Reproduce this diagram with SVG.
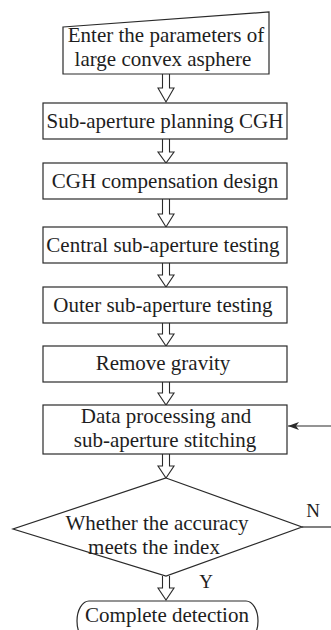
<svg xmlns="http://www.w3.org/2000/svg" width="331" height="630" viewBox="0 0 331 630">
  <style>
    .shape { fill: #ffffff; stroke: #2a2a2a; stroke-width: 1.2; }
    .label { font-family: "Liberation Serif", "Times New Roman", serif; font-size: 21px; fill: #1e1e1e; text-anchor: middle; }
    .tag { font-family: "Liberation Serif", "Times New Roman", serif; font-size: 19px; fill: #1e1e1e; text-anchor: middle; }
    .harrow { fill: #ffffff; stroke: #2a2a2a; stroke-width: 1.1; stroke-linejoin: miter; }
    .line { fill: none; stroke: #2a2a2a; stroke-width: 1.2; }
  </style>
  <defs>
    <marker id="solidHead" markerWidth="12" markerHeight="8" refX="11" refY="4" orient="auto" markerUnits="userSpaceOnUse">
      <path d="M0,0 L11,4 L0,8 L3,4 Z" fill="#2a2a2a"/>
    </marker>
  </defs>

  <!-- connectors: hollow block arrows and feedback loop -->
  <g id="connectors">
    <path class="harrow" d="M162.5,74 V88 H158 L166,102 L174,88 H169.5 V74"/>
    <path class="harrow" d="M162.5,139 V152 H158 L166,163 L174,152 H169.5 V139"/>
    <path class="harrow" d="M162.5,199 V214 H158 L166,227 L174,214 H169.5 V199"/>
    <path class="harrow" d="M162.5,263 V275 H158 L166,287 L174,275 H169.5 V263"/>
    <path class="harrow" d="M162.5,323 V334 H158 L166,346 L174,334 H169.5 V323"/>
    <path class="harrow" d="M162.5,382 V393 H158 L166,405 L174,393 H169.5 V382"/>
    <path class="harrow" d="M162.5,454 V466 H158 L166,478 L174,466 H169.5 V454"/>
    <path class="harrow" d="M162.5,576 V588 H158 L166,600 L174,588 H169.5 V576"/>
    <line class="line" x1="302" y1="527" x2="331" y2="527"/>
    <line class="line" x1="331" y1="426" x2="288" y2="426" marker-end="url(#solidHead)"/>
    <text class="tag" x="313" y="517">N</text>
    <text class="tag" x="206" y="588">Y</text>
  </g>

  <g id="input-parameters">
    <polygon class="shape" points="63,27 269,12 269,74 63,74"/>
    <text class="label" x="166" y="42">Enter the parameters of</text>
    <text class="label" x="163" y="66">large convex asphere</text>
  </g>

  <g id="subaperture-planning">
    <rect class="shape" x="43" y="103" width="244" height="36"/>
    <text class="label" x="165" y="128">Sub-aperture planning CGH</text>
  </g>

  <g id="cgh-design">
    <rect class="shape" x="43" y="163" width="244" height="36"/>
    <text class="label" x="165" y="188">CGH compensation design</text>
  </g>

  <g id="central-testing">
    <rect class="shape" x="43" y="227" width="244" height="36"/>
    <text class="label" x="163" y="252">Central sub-aperture testing</text>
  </g>

  <g id="outer-testing">
    <rect class="shape" x="43" y="287" width="244" height="36"/>
    <text class="label" x="163" y="312">Outer sub-aperture testing</text>
  </g>

  <g id="remove-gravity">
    <rect class="shape" x="43" y="346" width="244" height="36"/>
    <text class="label" x="163" y="370">Remove gravity</text>
  </g>

  <g id="stitching">
    <rect class="shape" x="43" y="405" width="244" height="49"/>
    <text class="label" x="166" y="423">Data processing and</text>
    <text class="label" x="165" y="447">sub-aperture stitching</text>
  </g>

  <g id="accuracy-check">
    <polygon class="shape" points="166,478 302,527 166,576 13,529"/>
    <text class="label" x="157" y="530">Whether the accuracy</text>
    <text class="label" x="154" y="554">meets the index</text>
  </g>

  <g id="complete">
    <rect class="shape" x="77" y="601" width="181" height="40" rx="12" ry="20"/>
    <text class="label" x="167" y="622">Complete detection</text>
  </g>
</svg>
